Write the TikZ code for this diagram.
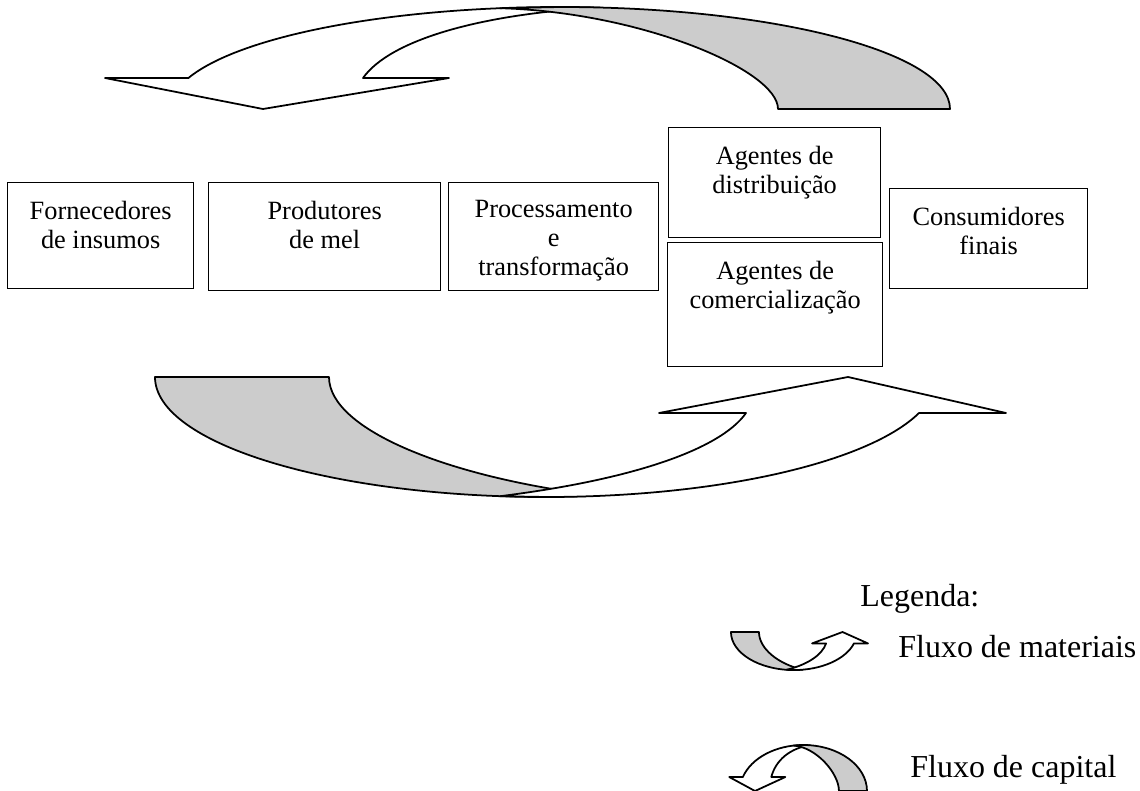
\documentclass[tikz,border=0pt]{standalone}
\usepackage{fontspec}
\setmainfont{Liberation Serif}
\usetikzlibrary{positioning}
\definecolor{cinza}{HTML}{CCCCCC}

\begin{document}
\begin{tikzpicture}[
  x=0.02cm, y=-0.02cm,
  caixa/.style={draw, line width=0.8pt, anchor=north west, inner sep=0pt},
  rotulo/.style={align=center, inner sep=0pt, font=\fontsize{15}{16.4}\selectfont},
  seta/.style={draw, line width=1pt, line join=round, fill=white},
  costas/.style={seta, fill=cinza},
  legenda/.style={anchor=base west, inner sep=0pt, font=\fontsize{18.2}{21}\selectfont},
  pics/capital/.style={code={
    \path[seta] (105,78) -- (188.4,78) .. controls (240,35.7) and (390.3,7) .. (560,7) -- (600,7.5)
      .. controls (480,14) and (390,40) .. (363,78) -- (449,78) -- (263,109) -- cycle;
    \path[costas] (778,109) -- (950,109) .. controls (950,52.7) and (775.4,7) .. (560,7) -- (500,8.2)
      .. controls (640,12) and (778,70) .. (778,109) -- cycle;
  }},
  pics/materiais/.style={code={
    \path[costas] (155,377) -- (329,377) .. controls (329,430) and (450,478) .. (600,495.8) -- (546,497)
      .. controls (330,497) and (155,443.3) .. (155,377) -- cycle;
    \path[seta] (659,413) -- (848,377) -- (1006,413) -- (919,413) .. controls (867.8,463) and (716.7,497) .. (546,497)
      -- (500,496.2) .. controls (630,480) and (720,450) .. (746,413) -- cycle;
  }}
]
  \useasboundingbox (0,0) rectangle (1140,791);

  % elos da cadeia
  \node[caixa, minimum width=3.72cm, minimum height=2.12cm] (forn) at (7,182) {};
  \node[caixa, minimum width=4.64cm, minimum height=2.16cm] (prod) at (208,182) {};
  \node[caixa, minimum width=4.20cm, minimum height=2.16cm] (proc) at (448,182) {};
  \node[caixa, minimum width=4.24cm, minimum height=2.20cm] (dist) at (668,127) {};
  \node[caixa, minimum width=4.30cm, minimum height=2.48cm] (come) at (667,242) {};
  \node[caixa, minimum width=3.96cm, minimum height=2.00cm] (cons) at (889,188) {};

  \node[rotulo, below=0.38cm of forn.north] (forn-txt) {Fornecedores\\de insumos};
  \node[rotulo, below=0.38cm of prod.north] (prod-txt) {Produtores\\de mel};
  \node[rotulo, below=0.36cm of proc.north] (proc-txt) {Processamento\\e\\transformação};
  \node[rotulo, below=0.38cm of dist.north] (dist-txt) {Agentes de\\distribuição};
  \node[rotulo, below=0.38cm of come.north] (come-txt) {Agentes de\\comercialização};
  \node[rotulo, below=0.38cm of cons.north] (cons-txt) {Consumidores\\finais};

  % fluxos
  \pic at (0,0) {capital};
  \pic at (0,0) {materiais};

  % legenda
  \node[legenda] (leg) at (860,606) {Legenda:};
  \pic[xscale=0.161, yscale=0.317] at (706,512.5) {materiais};
  \node[legenda] (leg-mat) at (898,657) {Fluxo de materiais};
  \pic[xscale=0.163, yscale=0.451] at (712.15,741.84) {capital};
  \node[legenda] (leg-cap) at (910,777) {Fluxo de capital};
\end{tikzpicture}
\end{document}
